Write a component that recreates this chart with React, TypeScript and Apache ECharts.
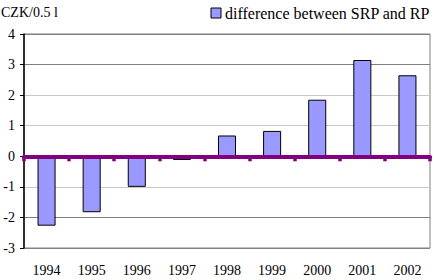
import React, { useEffect, useRef } from "react";
import * as echarts from "echarts";

const years = ["1994", "1995", "1996", "1997", "1998", "1999", "2000", "2001", "2002"];
const difference = [-2.27, -1.83, -1.0, -0.12, 0.68, 0.83, 1.85, 3.15, 2.65];
const seriesName = "difference between SRP and RP";
const unitLabel = "CZK/0.5 l";

const FONT = "Liberation Serif";
// gridline shades from -3 up to 4
const gridShades = ["#808080", "#808080", "#c8c8c8", "#c8c8c8", "#c8c8c8", "#c8c8c8", "#808080", "#808080"];

export default function App() {
  const ref = useRef<HTMLDivElement>(null);

  useEffect(() => {
    if (!ref.current) return;
    const chart = echarts.init(ref.current, null, { renderer: "svg" });
    chart.setOption({
      animation: false,
      backgroundColor: "#ffffff",
      textStyle: { fontFamily: FONT },
      title: {
        text: unitLabel,
        left: -4,
        top: 0,
        textStyle: { fontFamily: FONT, fontSize: 14, fontWeight: "normal", color: "#000" },
      },
      legend: {
        right: 0,
        top: 0,
        itemWidth: 10,
        itemHeight: 10,
        itemGap: 4,
        textStyle: { fontFamily: FONT, fontSize: 16, color: "#000", padding: [0, 0, 0, -1] },
        data: [{ name: seriesName, icon: "rect", itemStyle: { color: "#9999ff", borderColor: "#000", borderWidth: 1 } }],
      },
      grid: {
        left: 24,
        right: 5,
        top: 34,
        bottom: 32,
        show: true,
        borderColor: "#808080",
        borderWidth: 1,
      },
      xAxis: [
        {
          type: "category",
          data: years,
          position: "bottom",
          z: 10,
          axisLine: { onZero: true, lineStyle: { color: "#800080", width: 4 } },
          axisTick: { show: true, length: 5, lineStyle: { color: "#800080", width: 3.5 } },
          axisLabel: { show: false },
        },
        {
          type: "category",
          data: years,
          position: "bottom",
          axisLine: { show: false, onZero: false },
          axisTick: { show: false },
          axisLabel: { margin: 15, fontFamily: FONT, fontSize: 14, color: "#000" },
        },
      ],
      yAxis: {
        type: "value",
        min: -3,
        max: 4,
        interval: 1,
        axisLine: { show: true, lineStyle: { color: "#000", width: 1.5 } },
        axisTick: { show: true, length: 4, lineStyle: { color: "#000" } },
        axisLabel: { margin: 9, fontFamily: FONT, fontSize: 14, color: "#000" },
        splitLine: { show: true, lineStyle: { color: gridShades, width: 1 } },
      },
      series: [
        {
          name: seriesName,
          type: "bar",
          xAxisIndex: 0,
          data: difference,
          barWidth: "40%",
          itemStyle: { color: "#9999ff", borderColor: "#000", borderWidth: 1 },
          z: 1,
        },
      ],
    });
    return () => chart.dispose();
  }, []);

  return <div ref={ref} style={{ width: 435, height: 280, position: "absolute", left: 0, top: 0 }} />;
}
